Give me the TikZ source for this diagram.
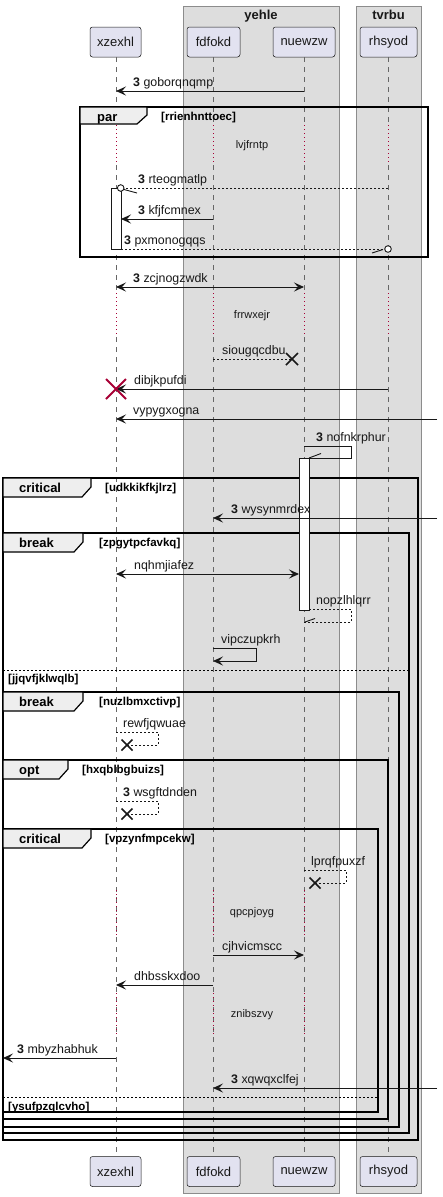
\documentclass[tikz,border=0pt]{standalone}
\usepackage{fontspec}
\setmainfont{Liberation Sans}
\usetikzlibrary{arrows.meta}
\definecolor{boxfill}{HTML}{DDDDDD}
\definecolor{boxline}{HTML}{8C8C8C}
\definecolor{partfill}{HTML}{E2E2F0}
\definecolor{ink}{HTML}{181818}
\definecolor{lifegray}{HTML}{666666}
\definecolor{delayred}{HTML}{A80036}
\definecolor{tabfill}{HTML}{EEEEEE}
\begin{document}
\begin{tikzpicture}[x=1pt,y=-1pt,
  part/.style={draw=ink, fill=partfill, rounded corners=2.5pt, line width=0.5pt, minimum height=30pt, inner sep=0pt, font=\fontsize{13}{15}\selectfont, text=ink},
  grp/.style={draw=boxline, fill=boxfill, line width=0.8pt},
  grptitle/.style={anchor=base, inner sep=0pt, font=\bfseries\fontsize{13}{15}\selectfont, text=ink},
  life/.style={draw=lifegray, line width=0.6pt, dash pattern=on 5pt off 5pt},
  delayline/.style={draw=delayred, line width=1pt, dash pattern=on 1pt off 3pt},
  msg/.style={draw=ink, line width=0.9pt, -{Stealth[length=10pt,width=9pt,inset=4pt]}},
  msgboth/.style={draw=ink, line width=0.9pt, {Stealth[length=10pt,width=9pt,inset=4pt]}-{Stealth[length=10pt,width=9pt,inset=4pt]}},
  ret/.style={draw=ink, line width=0.8pt, dash pattern=on 2pt off 2pt},
  solidln/.style={draw=ink, line width=0.9pt},
  lbl/.style={anchor=base west, inner sep=0pt, font=\fontsize{12.4}{14}\selectfont, text=ink},
  dlbl/.style={anchor=center, inner sep=0pt, font=\fontsize{11}{13}\selectfont, text=ink},
  actbox/.style={draw=ink, fill=white, line width=0.9pt},
  fr/.style={draw=black, line width=1.5pt},
  ftab/.style={draw=black, fill=tabfill, line width=1.2pt},
  ftitle/.style={anchor=base west, inner sep=0pt, font=\bfseries\fontsize{13}{15}\selectfont},
  fcond/.style={anchor=base west, inner sep=0pt, font=\bfseries\fontsize{11.5}{13}\selectfont},
  xmark/.style={draw=ink, line width=1.6pt},
  elseline/.style={draw=black, line width=0.8pt, dash pattern=on 2pt off 2pt},
]
\useasboundingbox (0,0) rectangle (442,1197);
\fill[white] (0,0) rectangle (442,1197);

% group boxes
\draw[grp] (183,6) rectangle (339,1193);
\node[grptitle] (gyehle) at (261,19) {yehle};
\draw[grp] (356,6) rectangle (421,1193);
\node[grptitle] (gtvrbu) at (388.5,19) {tvrbu};

% participants
\node[part, minimum width=51pt] (pA) at (115.5,42) {xzexhl};
\node[part, minimum width=53pt] (pB) at (213.5,42) {fdfokd};
\node[part, minimum width=62pt] (pC) at (304,42) {nuewzw};
\node[part, minimum width=57pt] (pD) at (388.5,42) {rhsyod};
\node[part, minimum width=51pt] (qA) at (115.5,1171.5) {xzexhl};
\node[part, minimum width=53pt] (qB) at (213.5,1171.5) {fdfokd};
\node[part, minimum width=62pt] (qC) at (304,1171.5) {nuewzw};
\node[part, minimum width=57pt] (qD) at (388.5,1171.5) {rhsyod};

% lifelines
\foreach \x in {116,213,304,388} {
  \draw[life] (\x,57) -- (\x,125);
  \draw[life] (\x,165) -- (\x,293);
  \draw[life] (\x,337) -- (\x,1156);
  \draw[delayline] (\x,125) -- (\x,165);
  \draw[delayline] (\x,293) -- (\x,337);
  \draw[delayline] (\x,890) -- (\x,935);
  \draw[delayline] (\x,993) -- (\x,1037);
}

% ---------- frames ----------
% par
\draw[fr] (80,107) rectangle (428,257);
\draw[ftab] (80,107) -- (147,107) -- (147,115) -- (137,124) -- (80,124) -- cycle;
\node[ftitle] (tpar) at (97,121.5) {par};
\node[fcond] (cpar) at (161,120.5) {[rrienhnttoec]};
% critical 1
\draw[fr] (3,478) rectangle (418,1140);
\draw[ftab] (3,478) -- (91,478) -- (91,487) -- (82,497) -- (3,497) -- cycle;
\node[ftitle] (tcrit1) at (19,492.5) {critical};
\node[fcond] (ccrit1) at (105,491.5) {[udkkikfkjlrz]};
% break 1
\draw[fr] (3,533) rectangle (409,1133);
\draw[ftab] (3,533) -- (83,533) -- (83,542) -- (74,552) -- (3,552) -- cycle;
\node[ftitle] (tbrk1) at (19,547.5) {break};
\node[fcond] (cbrk1) at (99,546.5) {[zpgytpcfavkq]};
\draw[elseline] (3,670) -- (409,670);
\node[fcond] (ebrk1) at (8,682) {[jjqvfjklwqlb]};
% break 2
\draw[fr] (3,692) rectangle (399,1127);
\draw[ftab] (3,692) -- (83,692) -- (83,701) -- (74,711) -- (3,711) -- cycle;
\node[ftitle] (tbrk2) at (19,706.5) {break};
\node[fcond] (cbrk2) at (99,705.5) {[nuzlbmxctivp]};
% opt
\draw[fr] (3,760) rectangle (388,1119);
\draw[ftab] (3,760) -- (68,760) -- (68,769) -- (59,779) -- (3,779) -- cycle;
\node[ftitle] (topt) at (19,774.5) {opt};
\node[fcond] (copt) at (82,773.5) {[hxqblbgbuizs]};
% critical 2
\draw[fr] (3,829) rectangle (378,1112);
\draw[ftab] (3,829) -- (91,829) -- (91,838) -- (82,848) -- (3,848) -- cycle;
\node[ftitle] (tcrit2) at (19,843.5) {critical};
\node[fcond] (ccrit2) at (105,842.5) {[vpzynfmpcekw]};
\draw[elseline] (3,1097) -- (378,1097);
\node[fcond] (ecrit2) at (8,1110) {[ysufpzqlcvho]};

% activations
\draw[actbox] (111,188) rectangle (121,249);
\draw[actbox] (299,458) rectangle (309,610);

% delay texts
\node[dlbl] (d1) at (252,146) {lvjfrntp};
\node[dlbl] (d2) at (252,316) {frrwxejr};
\node[dlbl] (d3) at (252,913) {qpcpjoyg};
\node[dlbl] (d4) at (252,1015) {znibszvy};

% ---------- messages ----------
\draw[msg] (304,91) -- (116,91);
\node[lbl] (m1) at (133,86) {\textbf{3} goborqnqmp};

\draw[ret] (388,188) -- (124,188);
\draw[ink, line width=0.9pt, fill=white] (120.7,188) circle (3.3);
\draw[solidln] (124,189.5) -- (137,193);
\node[lbl] (m2) at (138,183) {\textbf{3} rteogmatlp};

\draw[msg] (213,219) -- (121,219);
\node[lbl] (m3) at (138,214) {\textbf{3} kfjfcmnex};

\draw[ret] (121,249) -- (384.7,249);
\draw[ink, line width=0.9pt, fill=white] (388,249) circle (3.3);
\draw[solidln] (372,253) -- (383,249.5);
\node[lbl] (m4) at (124,244) {\textbf{3} pxmonogqqs};

\draw[msgboth] (116,287) -- (304,287);
\node[lbl] (m5) at (133,282) {\textbf{3} zcjnogzwdk};

\draw[ret] (213,359) -- (292,359);
\draw[xmark] (286,353) -- (298,365) (286,365) -- (298,353);
\node[lbl] (m6) at (222,354) {siougqcdbu};

\draw[msg] (388,389) -- (116,389);
\draw[draw=delayred, line width=2pt] (106,379) -- (126,399) (106,399) -- (126,379);
\node[lbl] (m7) at (134,384) {dibjkpufdi};

\draw[msg] (437,419) -- (116,419);
\node[lbl] (m8) at (133,414) {vypygxogna};

\draw[solidln] (304,446) -- (351,446) -- (351,458) -- (309,458);
\draw[solidln] (309,458) -- (321,453.5);
\node[lbl] (m9) at (316,441) {\textbf{3} nofnkrphur};

\draw[msg] (437,518) -- (213,518);
\node[lbl] (m10) at (231,513) {\textbf{3} wysynmrdex};

\draw[msgboth] (116,574) -- (299,574);
\node[lbl] (m11) at (134,569) {nqhmjiafez};

\draw[ret] (309,609) -- (351,609) -- (351,622) -- (304,622);
\draw[solidln] (305,622) -- (315,618.5);
\node[lbl] (m12) at (316,604) {nopzlhlqrr};

\draw[msg] (213,648) -- (256,648) -- (256,661) -- (213,661);
\node[lbl] (m13) at (221,643) {vipczupkrh};

\draw[ret] (116,732) -- (158,732) -- (158,745) -- (127,745);
\draw[xmark] (121.5,739.5) -- (132.5,750.5) (121.5,750.5) -- (132.5,739.5);
\node[lbl] (m14) at (123,727) {rewfjqwuae};

\draw[ret] (116,801) -- (158,801) -- (158,814) -- (127,814);
\draw[xmark] (121.5,808.5) -- (132.5,819.5) (121.5,819.5) -- (132.5,808.5);
\node[lbl] (m15) at (123,796) {\textbf{3} wsgftdnden};

\draw[ret] (304,870) -- (346,870) -- (346,883) -- (315,883);
\draw[xmark] (309.5,877.5) -- (320.5,888.5) (309.5,888.5) -- (320.5,877.5);
\node[lbl] (m16) at (311,865) {lprqfpuxzf};

\draw[msg] (213,955) -- (304,955);
\node[lbl] (m17) at (222,950) {cjhvicmscc};

\draw[msg] (213,985) -- (116,985);
\node[lbl] (m18) at (134,980) {dhbsskxdoo};

\draw[msg] (116,1058) -- (3,1058);
\node[lbl] (m19) at (17,1053) {\textbf{3} mbyzhabhuk};

\draw[msg] (437,1088) -- (213,1088);
\node[lbl] (m20) at (231,1083) {\textbf{3} xqwqxclfej};
\end{tikzpicture}
\end{document}
